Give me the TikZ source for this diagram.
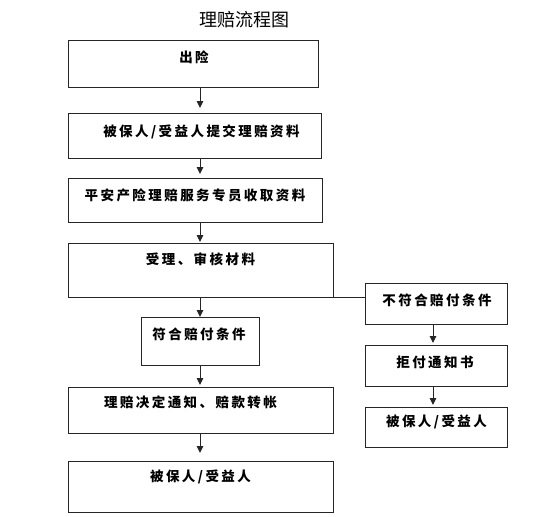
\documentclass[tikz,border=0pt]{standalone}
\usepackage{fontspec}
\newfontfamily\cjk[LetterSpace=18]{Noto Sans CJK SC}
\newfontfamily\cjktitle{Noto Sans CJK SC}
\usetikzlibrary{arrows.meta,calc}
\begin{document}
\begin{tikzpicture}[x=1pt,y=-1pt,
  box/.style={draw=black!85,line width=1pt,rectangle,inner sep=0pt,outer sep=0pt},
  txt/.style={font=\cjk\bfseries\fontsize{13.5}{15}\selectfont,inner sep=0pt},
  arr/.style={draw=black!85,line width=1pt,-{Triangle[length=7pt,width=6.5pt]}}]
\useasboundingbox (0,0) rectangle (560,517);
\node[font=\cjktitle\fontsize{18}{20}\selectfont,inner sep=0pt] (title) at (244,20) {理赔流程图};
% left column boxes
\node[box,minimum width=250,minimum height=47] (b1) at (193,63.5) {};
\node[box,minimum width=253,minimum height=45] (b2) at (194.5,135.5) {};
\node[box,minimum width=254,minimum height=44] (b3) at (195,200) {};
\node[box,minimum width=265,minimum height=54] (b4) at (200.5,270) {};
\node[box,minimum width=118,minimum height=48] (b6) at (200,341) {};
\node[box,minimum width=265,minimum height=46] (b8) at (200.5,410) {};
\node[box,minimum width=265,minimum height=51] (b10) at (200.5,486.5) {};
% right column boxes
\node[box,minimum width=142,minimum height=41] (b5) at (436,303.5) {};
\node[box,minimum width=142,minimum height=41] (b7) at (436,365.5) {};
\node[box,minimum width=142,minimum height=40] (b9) at (436,427) {};
% texts
\node[txt] at ($(b1.north)+(1,17)$) {出险};
\node[txt] at ($(b2.north)+(7,19)$) {被保人/受益人提交理赔资料};
\node[txt] at ($(b3.north)+(0,17)$) {平安产险理赔服务专员收取资料};
\node[txt] at ($(b4.north)+(0,16)$) {受理、审核材料};
\node[txt] at ($(b6.north)+(-1,17)$) {符合赔付条件};
\node[txt] at ($(b8.north)+(-10,15)$) {理赔决定通知、赔款转帐};
\node[txt] at ($(b10.north)+(0,16)$) {被保人/受益人};
\node[txt] at ($(b5.north)+(1,17)$) {不符合赔付条件};
\node[txt] at ($(b7.north)+(-1,17)$) {拒付通知书};
\node[txt] at ($(b9.north)+(0.5,15)$) {被保人/受益人};
% connectors
\coordinate (cl) at (200,0);
\coordinate (cr) at (433,0);
\draw[arr,shorten >=5pt] (b1.south -| cl) -- (b2.north -| cl);
\draw[arr,shorten >=4pt] (b2.south -| cl) -- (b3.north -| cl);
\draw[arr,shorten >=1pt] (b3.south -| cl) -- (b4.north -| cl);
\draw[arr] (b4.south -| cl) -- (b6.north -| cl);
\draw[arr,shorten >=2pt] (b6.south -| cl) -- (b8.north -| cl);
\draw[arr,shorten >=8pt] (b8.south -| cl) -- (b10.north -| cl);
\draw[draw=black!85,line width=1pt] (b4.south east) -- (b4.south east -| b5.west);
\draw[arr,shorten >=2pt] (b5.south -| cr) -- (b7.north -| cr);
\draw[arr,shorten >=2pt] (b7.south -| cr) -- (b9.north -| cr);
\end{tikzpicture}
\end{document}
